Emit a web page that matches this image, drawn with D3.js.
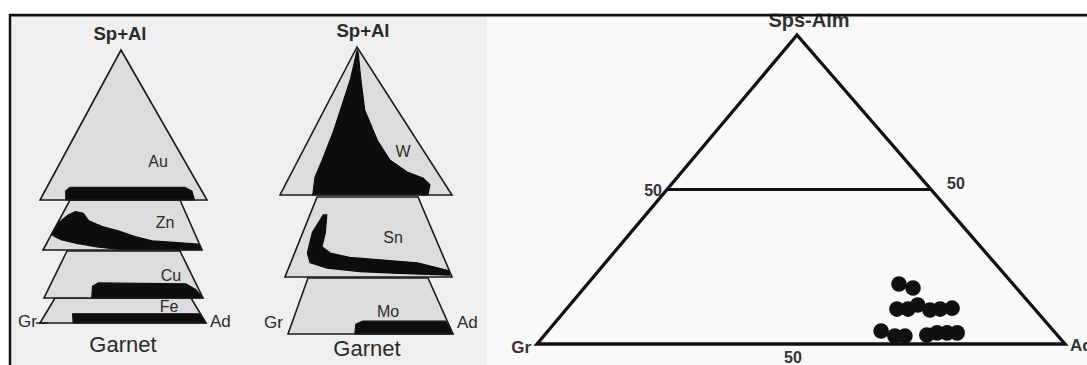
<!DOCTYPE html>
<html>
<head>
<meta charset="utf-8">
<script src="https://cdn.jsdelivr.net/npm/d3@7"></script>
<style>
  html, body { margin: 0; padding: 0; background: #ffffff; }
  svg { display: block; font-family: "Liberation Sans", Arial, sans-serif; }
</style>
</head>
<body>
<svg id="chart" width="1087" height="365"></svg>
<script>
// ---------------- DATA ----------------
// Left figure: garnet compositional fields (ternary % : [Sp+Al, Ad], Gr = 100 - Sp - Ad)
const skarnTypes = ["Au", "Zn", "Cu", "Fe", "W", "Sn", "Mo"];
const sliceTopSp = [100, 30, 28, 15, 100, 45, 35];   // Sp+Al % reached at top of each slice
const auField = [[0,15.5],[6,12.5],[8.5,14],[8.5,82.5],[6,88],[0,92.5]];
const znField = [[9.5,0],[17,1],[21,4],[23,7.5],[22,13],[17.5,19],[14,29.5],[11.5,41],[8,53.5],[5.5,65.5],[3.5,96],[0,100],[0.3,48],[1.8,33],[4,19],[6,8.5],[8,3]];
const cuField = [[0,30],[7,27],[9,29.5],[8.5,85],[5,93],[0,100]];
const feField = [[0,20],[5.5,16.5],[5.5,93.5],[0,100]];
const wField  = [[98,1],[78,6],[42,12],[23.5,14],[12,15],[0,19],[0,86],[7,84],[11.5,78],[15.5,67],[23.5,53.5],[37,40],[57.5,23.5],[80,11],[96,2.5]];
const snField = [[35,7.5],[25,5.5],[13.5,7.5],[8,11.5],[5,23],[3,43.5],[2,67.5],[1,98],[3.5,96.5],[8,75],[9.5,54],[11,33.5],[13.5,21],[17,14.5],[25,13],[35,9.5]];
const moField = [[0,40.5],[6,38.5],[8,41.5],[8,91],[0,100]];
const fields = [auField, znField, cuField, feField, wField, snField, moField];

// Right figure: analysed garnets (mol %)
const spsAlm    = [19.4, 18.1, 11.3, 11.3, 12.6, 11.0, 11.3, 11.6, 4.2, 2.6, 2.6, 2.9, 3.6, 3.6, 3.6];
const andradite = [59.0, 62.3, 62.6, 64.7, 65.9, 69.0, 70.8, 72.9, 63.1, 66.5, 68.4, 72.4, 74.0, 75.9, 77.8];
const grossular = [21.6, 19.6, 26.1, 24.0, 21.5, 20.0, 17.9, 15.5, 32.7, 30.9, 29.0, 24.7, 22.4, 20.5, 18.6];
const guideLevels = [50];
const apexLabels = ["Sps-Alm", "Gr", "Ad"];

// ---------------- LAYOUT ----------------
const svg = d3.select("#chart");
const INK = "#111";
const TXT = "#2a2a2a";

// frame & backgrounds
svg.append("rect").attr("x", 10).attr("y", 15).attr("width", 477).attr("height", 350).attr("fill", "#efefef");
svg.append("rect").attr("x", 487).attr("y", 15).attr("width", 600).attr("height", 350).attr("fill", "#f9f9f9");

// slice frames (pixel layout of each stacked slice)
const frames = [
  {bottom:200, top:50,  bl:40,  br:207, tl:121, tr:121}, // Au
  {bottom:250, top:200, bl:43,  br:202, tl:70,  tr:180}, // Zn
  {bottom:298, top:251, bl:44,  br:203, tl:67,  tr:180}, // Cu
  {bottom:323, top:298, bl:40,  br:206, tl:55,  tr:191}, // Fe
  {bottom:195, top:47,  bl:280, br:452, tl:357, tr:357}, // W
  {bottom:277, top:197, bl:285, br:452, tl:317, tr:418}, // Sn
  {bottom:334, top:278, bl:288, br:453, tl:308, tr:428}  // Mo
];
const labelPos = [[158,167],[165,228],[171,281],[169,312],[403,157],[393,243],[388,317]];

function sliceProjector(f, spTop) {
  const y = d3.scaleLinear().domain([0, spTop]).range([f.bottom, f.top]);
  const L = d3.scaleLinear().domain([0, spTop]).range([f.bl, f.tl]);
  const R = d3.scaleLinear().domain([0, spTop]).range([f.br, f.tr]);
  return ([sp, ad]) => {
    const l = L(sp), r = R(sp);
    const frac = sp >= 100 ? 0.5 : ad / (100 - sp);
    return [l + (r - l) * frac, y(sp)];
  };
}
const line = d3.line().curve(d3.curveLinearClosed);

const order = [3, 2, 1, 0, 6, 5, 4];
order.forEach(i => {
  const spTop = sliceTopSp[i];
  const P = sliceProjector(frames[i], spTop);
  const outline = spTop >= 100
    ? [[0,0],[0,100],[100,0]]
    : [[0,0],[0,100],[spTop,100 - spTop],[spTop,0]];
  const g = svg.append("g");
  g.append("path").attr("d", line(outline.map(P)))
    .attr("fill", "#dcdcdc").attr("stroke", "none");
  g.append("path").attr("d", line(fields[i].map(P)))
    .attr("fill", "#0d0d0d").attr("stroke", "#0d0d0d").attr("stroke-width", 1.2).attr("stroke-linejoin", "round");
  g.append("path").attr("d", line(outline.map(P)))
    .attr("fill", "none").attr("stroke", "#1a1a1a").attr("stroke-width", 1.6).attr("stroke-linejoin", "miter");
  g.append("text").attr("x", labelPos[i][0]).attr("y", labelPos[i][1])
    .attr("text-anchor", "middle").attr("font-size", 16).attr("fill", TXT).text(skarnTypes[i]);
});

// left-figure annotations
[[120, 40], [363, 37]].forEach(p => svg.append("text").attr("x", p[0]).attr("y", p[1])
  .attr("text-anchor", "middle").attr("font-size", 18).attr("font-weight", "bold").attr("fill", TXT)
  .attr("textLength", 53).attr("lengthAdjust", "spacingAndGlyphs").text("Sp+Al"));
[[123, 352], [367, 356]].forEach(p => svg.append("text").attr("x", p[0]).attr("y", p[1])
  .attr("text-anchor", "middle").attr("font-size", 22).attr("fill", TXT).text("Garnet"));
[[37, 327, "end", "Gr"], [210, 327, "start", "Ad"], [283, 328, "end", "Gr"], [457, 328, "start", "Ad"]]
  .forEach(p => svg.append("text").attr("x", p[0]).attr("y", p[1]).attr("text-anchor", p[2])
    .attr("font-size", 17).attr("fill", TXT).text(p[3]));
// small connector at Gr of first stack
svg.append("line").attr("x1", 36).attr("x2", 48).attr("y1", 323).attr("y2", 323).attr("stroke", "#1a1a1a").attr("stroke-width", 1.4);

// ---------------- RIGHT: ternary diagram ----------------
const GR = [537, 344], AD = [1065, 344], APEX = [797, 35];
const adX = d3.scaleLinear().domain([0, 100]).range([0, AD[0] - GR[0]]);
const spX = d3.scaleLinear().domain([0, 100]).range([0, APEX[0] - GR[0]]);
const spY = d3.scaleLinear().domain([0, 100]).range([GR[1], APEX[1]]);
const tern = (sp, ad) => [GR[0] + adX(ad) + spX(sp), spY(sp)];

svg.append("path").attr("d", line([tern(0,0), tern(0,100), tern(100,0)]))
  .attr("fill", "none").attr("stroke", INK).attr("stroke-width", 3.3).attr("stroke-linejoin", "miter");
guideLevels.forEach(v => {
  const a = tern(v, 0), b = tern(v, 100 - v);
  svg.append("line").attr("x1", a[0]).attr("y1", a[1]).attr("x2", b[0]).attr("y2", b[1])
    .attr("stroke", INK).attr("stroke-width", 3);
  svg.append("text").attr("x", a[0] - 5).attr("y", a[1] + 6).attr("text-anchor", "end")
    .attr("font-size", 16).attr("font-weight", "bold").attr("fill", "#333").text(v);
  svg.append("text").attr("x", b[0] + 16).attr("y", b[1] - 1).attr("text-anchor", "start")
    .attr("font-size", 16).attr("font-weight", "bold").attr("fill", "#333").text(v);
  const c = tern(0, v);
  svg.append("text").attr("x", c[0] - 8).attr("y", c[1] + 19).attr("text-anchor", "middle")
    .attr("font-size", 16).attr("font-weight", "bold").attr("fill", "#333").text(v);
});

// points
svg.append("g").selectAll("circle").data(spsAlm.map((s, i) => ({sp: s, ad: andradite[i], gr: grossular[i]})))
  .join("circle")
  .attr("cx", d => tern(d.sp, d.ad)[0]).attr("cy", d => tern(d.sp, d.ad)[1])
  .attr("r", 7.8).attr("fill", "#111");

// apex labels
svg.append("text").attr("x", APEX[0] + 12).attr("y", 27).attr("text-anchor", "middle")
  .attr("font-size", 20).attr("font-weight", "bold").attr("fill", "#333").text(apexLabels[0]);
svg.append("text").attr("x", GR[0] - 6).attr("y", GR[1] + 9).attr("text-anchor", "end")
  .attr("font-size", 17).attr("font-weight", "bold").attr("fill", "#333").text(apexLabels[1]);
svg.append("text").attr("x", AD[0] + 5).attr("y", AD[1] + 7).attr("text-anchor", "start")
  .attr("font-size", 17).attr("font-weight", "bold").attr("fill", "#333").text(apexLabels[2]);

// outer frame lines (drawn last, over the cut-off title)
svg.append("line").attr("x1", 9).attr("x2", 1087).attr("y1", 15).attr("y2", 15).attr("stroke", INK).attr("stroke-width", 3);
svg.append("line").attr("x1", 10).attr("x2", 10).attr("y1", 14).attr("y2", 365).attr("stroke", INK).attr("stroke-width", 2.5);
svg.append("rect").attr("x", 0).attr("y", 0).attr("width", 1087).attr("height", 13.5).attr("fill", "#ffffff");
</script>
</body>
</html>
